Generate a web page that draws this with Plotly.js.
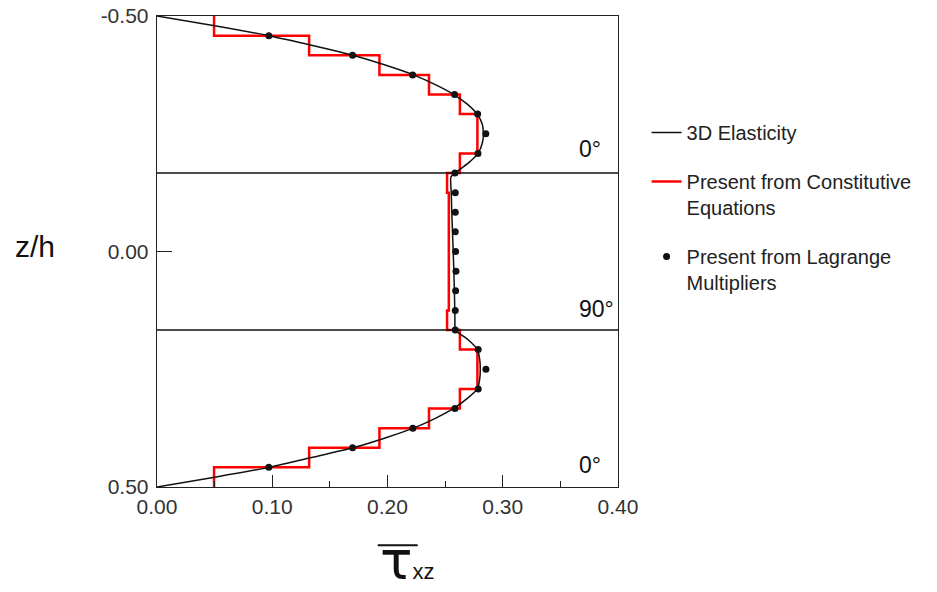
<!DOCTYPE html>
<html><head><meta charset="utf-8">
<script src="https://cdn.plot.ly/plotly-3.0.1.min.js"></script>
<style>html,body{margin:0;padding:0;background:#fff}#chart{width:937px;height:592px}</style>
</head><body><div id="chart"></div>
<script>
// 3D elasticity solution (z/h, tau_xz)
const elastZ = [-0.5, -0.4792, -0.4583, -0.4375, -0.4167, -0.3958, -0.375, -0.3542, -0.3333, -0.3125, -0.2917, -0.2708, -0.25, -0.2292, -0.2083, -0.1875, -0.1667,
  -0.158, -0.125, -0.083, -0.042, 0.0, 0.042, 0.083, 0.125, 0.158,
  0.1667, 0.1875, 0.2083, 0.2292, 0.25, 0.2708, 0.2917, 0.3125, 0.3333, 0.3542, 0.375, 0.3958, 0.4167, 0.4375, 0.4583, 0.4792, 0.5];
const elastTau = [0.0, 0.050, 0.097, 0.135, 0.170, 0.198, 0.2225, 0.2415, 0.2575, 0.2695, 0.2778, 0.2822, 0.2832, 0.2822, 0.2785, 0.2700, 0.2585,
  0.2550, 0.2553, 0.2558, 0.2564, 0.2570, 0.2576, 0.2580, 0.2584, 0.2585,
  0.2585, 0.2700, 0.2780, 0.2800, 0.2805, 0.2800, 0.2780, 0.2690, 0.2575, 0.2415, 0.2225, 0.198, 0.170, 0.134, 0.097, 0.050, 0.0];

// Present from constitutive equations: piecewise constant per sub-layer
const sublayerBounds = [-0.5, -0.4583, -0.4167, -0.375, -0.3333, -0.2917, -0.25, -0.2083, -0.1667,
  -0.125, -0.0833, -0.0417, 0.0, 0.0417, 0.0833, 0.125, 0.1667,
  0.2083, 0.25, 0.2917, 0.3333, 0.375, 0.4167, 0.4583, 0.5];
const constitutiveTau = [0.0495, 0.132, 0.193, 0.236, 0.2628, 0.278, 0.278, 0.2628,
  0.2517, 0.2532, 0.2532, 0.2532, 0.2532, 0.2532, 0.2532, 0.2517,
  0.2628, 0.278, 0.278, 0.2628, 0.236, 0.193, 0.132, 0.0495];

// Present from Lagrange multipliers
const lagrangeZ = [-0.4583, -0.4167, -0.375, -0.3333, -0.2917, -0.25, -0.2083, -0.1667,
  -0.125, -0.0833, -0.0417, 0.0, 0.0417, 0.0833, 0.125, 0.1667,
  0.2083, 0.25, 0.2917, 0.3333, 0.375, 0.4167, 0.4583];
const lagrangeTau = [0.097, 0.1697, 0.2218, 0.2582, 0.2782, 0.2853, 0.2785, 0.2585,
  0.2588, 0.2588, 0.2588, 0.2591, 0.2594, 0.2591, 0.2588, 0.2588,
  0.2787, 0.2854, 0.2787, 0.2585, 0.2220, 0.1697, 0.0970];

const layerInterfaces = [-0.1667, 0.1667];
const layerLabels = ['0°', '90°', '0°'];
const layerLabelZ = [-0.2185, 0.1212, 0.454];

const xTickVals = [0, 0.1, 0.2, 0.3, 0.4];
const xTickText = ['0.00', '0.10', '0.20', '0.30', '0.40'];
const yTickVals = [-0.5, 0, 0.5];
const yTickText = ['-0.50', '0.00', '0.50'];

const FONT = 'Liberation Sans, Arial, sans-serif';

const stepX = [], stepY = [];
for (let i = 0; i < constitutiveTau.length; i++) {
  stepX.push(constitutiveTau[i], constitutiveTau[i]);
  stepY.push(sublayerBounds[i], sublayerBounds[i + 1]);
}

const traces = [
  {x: stepX, y: stepY, mode: 'lines', name: 'Present from Constitutive<br>Equations',
   line: {color: '#ff0000', width: 2.5}, legendrank: 2, legendgroup: 'b'},
  {x: elastTau, y: elastZ, mode: 'lines', name: '3D Elasticity',
   line: {color: '#111', width: 1.5, shape: 'spline', smoothing: 0.6}, legendrank: 1, legendgroup: 'a'},
  {x: lagrangeTau, y: lagrangeZ, mode: 'markers', name: 'Present from Lagrange<br>Multipliers',
   marker: {color: '#111', size: 7}, legendrank: 3, legendgroup: 'c'}
];

const shapes = layerInterfaces.map(z => ({type: 'line', xref: 'paper', x0: 0, x1: 1, yref: 'y', y0: z, y1: z,
  line: {color: '#111', width: 1.3}}));
// overbar of the axis symbol
shapes.push({type: 'line', xref: 'paper', x0: 0.4787, x1: 0.5655, yref: 'paper', y0: -0.1238, y1: -0.1238,
  line: {color: '#111', width: 2}});

const annotations = layerLabels.map((t, i) => ({text: t, xref: 'x', x: 0.3644, xanchor: 'left', yref: 'y', y: layerLabelZ[i],
  yanchor: 'middle', showarrow: false, font: {family: FONT, size: 23, color: '#111'}}));
annotations.push({text: 'z/h', xref: 'paper', x: -0.265, xanchor: 'center', yref: 'paper', y: 0.511, yanchor: 'middle',
  showarrow: false, font: {family: FONT, size: 30, color: '#111'}});
annotations.push({text: 'τ<span style="font-size:22px;font-family:Liberation Sans">xz</span>',
  xref: 'paper', x: 0.4787, xanchor: 'left', yref: 'paper', y: -0.1563, yanchor: 'middle', showarrow: false,
  font: {family: 'DejaVu Sans, sans-serif', size: 54, color: '#111'}});

const layout = {
  width: 937, height: 592,
  margin: {l: 157, r: 319, t: 16, b: 105},
  paper_bgcolor: '#fff', plot_bgcolor: '#fff',
  font: {family: FONT, color: '#222'},
  xaxis: {range: [0, 0.4], tickvals: xTickVals, ticktext: xTickText, ticks: 'inside', ticklen: 12, tickwidth: 1.2,
    tickcolor: '#222', showline: true, linecolor: '#222', linewidth: 1.3, mirror: true, showgrid: false, zeroline: false,
    minor: {ticks: 'inside', ticklen: 6, dtick: 0.05, tickcolor: '#222', tickwidth: 1.2, showgrid: false},
    tickfont: {family: FONT, size: 21, color: '#333'}, ticklabelstandoff: 0},
  yaxis: {range: [0.5, -0.5], tickvals: yTickVals, ticktext: yTickText, ticks: 'inside', ticklen: 15, tickwidth: 1.2,
    tickcolor: '#222', showline: true, linecolor: '#222', linewidth: 1.3, mirror: true, showgrid: false, zeroline: false,
    tickfont: {family: FONT, size: 21, color: '#333'}, ticklabelstandoff: 3},
  showlegend: true,
  legend: {x: 1.062, xanchor: 'left', y: 0.794, yanchor: 'top', font: {family: FONT, size: 20, color: '#222'},
    bgcolor: 'rgba(0,0,0,0)', borderwidth: 0, tracegroupgap: 20, valign: 'top', itemwidth: 30},
  shapes: shapes,
  annotations: annotations
};

Plotly.newPlot('chart', traces, layout, {displayModeBar: false, staticPlot: true});
</script>
</body></html>
